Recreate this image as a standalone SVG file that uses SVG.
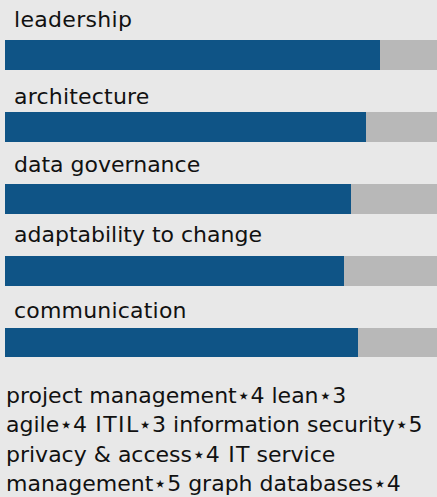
<svg xmlns="http://www.w3.org/2000/svg" width="437" height="497" viewBox="0 0 437 497">
<style>
.t{font-family:"DejaVu Sans","Liberation Sans",sans-serif;font-size:22px;fill:#111}
.bg{fill:#b8b8b8}
.fg{fill:#0f5486}
</style>
<rect x="0" y="0" width="437" height="497" fill="#e8e8e8"/>
<g id="skill-leadership">
<text class="t" x="14" y="27" letter-spacing="0.3">leadership</text>
<rect class="bg" x="5" y="40" width="432" height="30"/>
<rect class="fg" x="5" y="40" width="375" height="30"/>
</g>
<g id="skill-architecture">
<text class="t" x="14" y="104" letter-spacing="0.2">architecture</text>
<rect class="bg" x="5" y="112" width="432" height="30"/>
<rect class="fg" x="5" y="112" width="361" height="30"/>
</g>
<g id="skill-data-governance">
<text class="t" x="14" y="172">data governance</text>
<rect class="bg" x="5" y="184" width="432" height="30"/>
<rect class="fg" x="5" y="184" width="346" height="30"/>
</g>
<g id="skill-adaptability">
<text class="t" x="14" y="242">adaptability to change</text>
<rect class="bg" x="5" y="256" width="432" height="30"/>
<rect class="fg" x="5" y="256" width="339" height="30"/>
</g>
<g id="skill-communication">
<text class="t" x="14" y="318" letter-spacing="0.2">communication</text>
<rect class="bg" x="5" y="328" width="432" height="29"/>
<rect class="fg" x="5" y="328" width="353" height="29"/>
</g>
<g id="other-skills">
<text class="t" x="6" y="403">project management⋆4 lean⋆3</text>
<text class="t" x="6" y="432">agile⋆4 <tspan dx="1.4">I</tspan><tspan dx="1.4">T</tspan><tspan dx="1.4">I</tspan><tspan dx="1.4">L</tspan>⋆3 information security⋆5</text>
<text class="t" x="6" y="462">privacy &amp; access⋆4 <tspan dx="1.4">I</tspan><tspan dx="1.4">T</tspan> service</text>
<text class="t" x="6" y="491">management⋆5 graph databases⋆4</text>
</g>
</svg>
